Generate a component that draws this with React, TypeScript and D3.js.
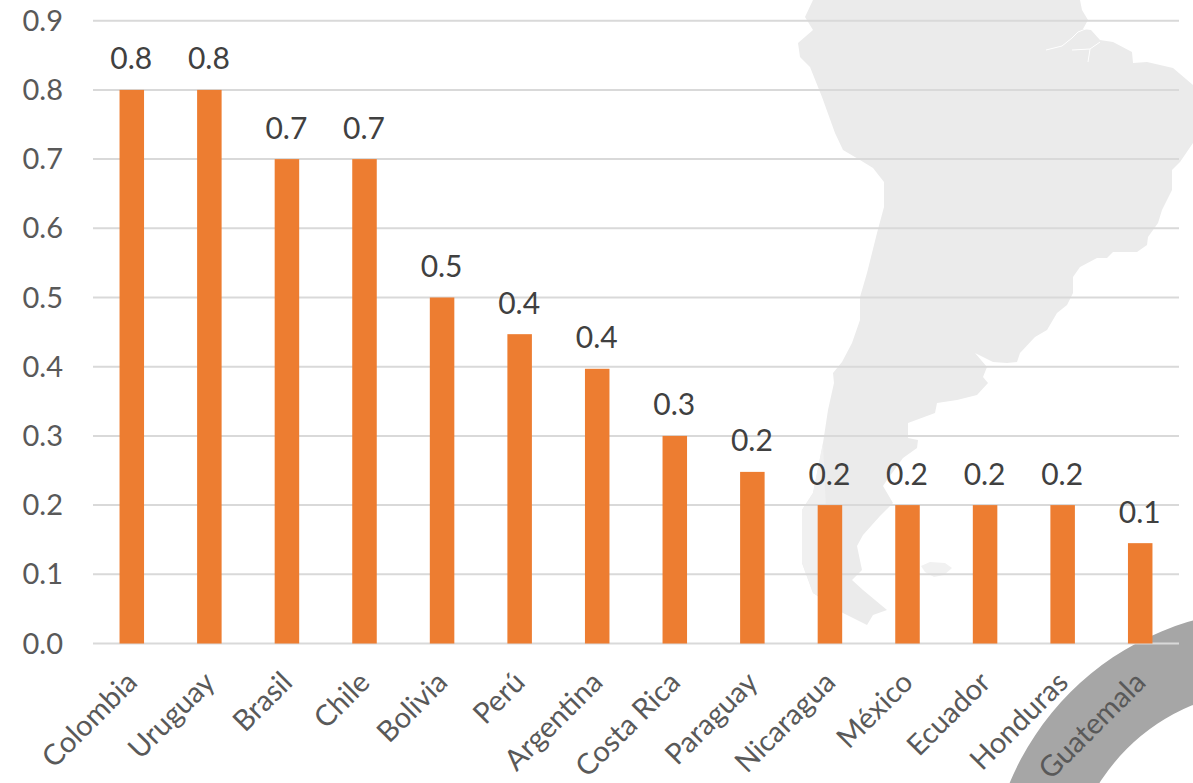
import React from "react";
import * as d3 from "d3";

const countries = ["Colombia","Uruguay","Brasil","Chile","Bolivia","Perú","Argentina","Costa Rica","Paraguay","Nicaragua","México","Ecuador","Honduras","Guatemala"];
const values = [0.8,0.8,0.7,0.7,0.5,0.447,0.397,0.3,0.248,0.2,0.2,0.2,0.2,0.145];
const ticks = [0,0.1,0.2,0.3,0.4,0.5,0.6,0.7,0.8,0.9];

// Decorative backdrop outlines (page pixels)
const continent: [number,number][] = [
[813,0],[1080,0],[1082,10],[1088,20],[1083,29],[1091,30],[1100,40],[1113,42],[1132,52],[1133,63],[1147,62],[1173,68],[1193,85],[1193,143],[1180,162],[1172,170],[1172,190],[1162,210],[1158,223],[1148,237],[1147,245],[1137,252],[1113,252],[1107,258],[1097,258],[1080,267],[1073,277],[1073,293],[1067,305],[1057,313],[1047,330],[1035,337],[1020,353],[1017,362],[1007,363],[993,362],[975,353],[987,367],[983,377],[988,383],[977,395],[957,400],[937,403],[935,413],[908,423],[908,438],[918,440],[917,448],[903,458],[887,480],[883,486],[893,503],[880,516],[863,535],[857,546],[862,570],[852,580],[863,590],[887,610],[873,615],[867,625],[843,613],[813,593],[802,563],[802,510],[813,493],[823,443],[828,410],[834,383],[833,373],[842,362],[852,343],[860,320],[860,297],[867,273],[877,233],[884,207],[884,182],[873,168],[860,160],[843,150],[835,133],[822,97],[810,67],[800,57],[798,43],[813,30],[805,17]
];
const channels: [number,number][] = [[802,563],[802,510],[813,493],[823,443],[826,510],[818,563],[826,600],[813,593]];
const falklands: [number,number][] = [[921,566],[930,562],[945,563],[952,568],[944,575],[934,577],[925,572]];
const amazon: [number,number][] = [[1046,50],[1062,46],[1072,38],[1078,32],[1088,28]];
const amazon2: [number,number][] = [[1072,50],[1090,49],[1100,42]];
const amazon3: [number,number][] = [[1090,49],[1088,62]];

const W = 1193, H = 783;
const x = d3.scaleBand<string>().domain(countries).range([93, 1179]).paddingInner(0.684).paddingOuter(0.342);
const y = d3.scaleLinear().domain([0, 0.9]).range([643.5, 20.7]);
const fmt = d3.format(".1f");
const line = d3.line();
const ring = d3.arc()({ innerRadius: 201, outerRadius: 281, startAngle: 0, endAngle: 2 * Math.PI } as any) as string;
const FONT = "Lato, Carlito, sans-serif";

export default function App() {
  return (
    <svg width={W} height={H} viewBox={`0 0 ${W} ${H}`} style={{ position: "absolute", left: 0, top: 0, background: "#fff", fontFamily: FONT }}>
      <path d={line(continent) + "Z"} fill="#ebebeb" />
      <path d={line(channels) + "Z"} fill="#f0f0f0" />
      <path d={line(falklands) + "Z"} fill="#f1f1f1" />
      {[amazon, amazon2, amazon3].map((r, i) => (
        <path key={i} d={line(r)!} fill="none" stroke="#fff" strokeWidth={1} />
      ))}
      <path d={ring} transform="translate(1269,891)" fill="#a6a6a6" />
      {ticks.map((t) => (
        <g key={t}>
          <line x1={93} x2={1179} y1={y(t)} y2={y(t)} stroke="#d9d9d9" strokeWidth={2} />
          <text x={63} y={y(t) + 10} textAnchor="end" fontSize={29} fill="#595959">{fmt(t)}</text>
        </g>
      ))}
      {countries.map((c, i) => (
        <g key={c}>
          <rect x={x(c)!} y={y(values[i])} width={x.bandwidth()} height={y(0) - y(values[i])} fill="#ed7d31" />
          <text x={x(c)! + x.bandwidth() / 2 - 0.5} y={y(values[i]) - 20.5} textAnchor="middle" fontSize={30} fill="#404040">{fmt(values[i])}</text>
          <text transform={`translate(${x(c)! + x.bandwidth() / 2 - 5},${672}) rotate(-45)`} textAnchor="end" dominantBaseline="hanging" fontSize={29} fill="#595959" dy={-6}>{c}</text>
        </g>
      ))}
    </svg>
  );
}
